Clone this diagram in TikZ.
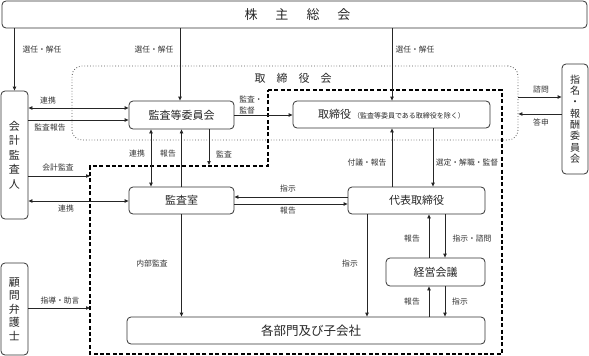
\documentclass[tikz,border=0pt]{standalone}
\usepackage{fontspec}
\setmainfont{Noto Sans CJK JP}
\usetikzlibrary{arrows.meta}
\begin{document}
\begin{tikzpicture}[x=1pt,y=-1pt,
  box/.style={draw=black!80, rounded corners=4pt, line width=0.8pt, inner sep=0pt, text=black!85,
    font=\fontsize{11}{13}\selectfont},
  vbox/.style={box, align=center, font=\fontsize{11}{14.5}\selectfont},
  lbl/.style={font=\fontsize{7.8}{10}\selectfont, text=black!80, inner sep=0.5pt},
  arr/.style={-{Triangle[length=4pt,width=3.4pt]}, line width=0.8pt, draw=black!85},
  darr/.style={{Triangle[length=4pt,width=3.4pt]}-{Triangle[length=4pt,width=3.4pt]}, line width=0.8pt, draw=black!85},
  dashline/.style={draw=black, line width=1.2pt, dash pattern=on 4pt off 2.4pt},
]
\useasboundingbox (0,0) rectangle (589,356);

% dotted board box
\node[draw=black!65, dotted, line width=0.8pt, rounded corners=10pt, minimum width=446pt, minimum height=74pt, inner sep=0pt] (bod) at (295,103) {};
\node[font=\fontsize{11}{13}\selectfont, text=black!85] (bodlbl) at (293,78) {取\hspace{11pt}締\hspace{11pt}役\hspace{11pt}会};

% dashed region
\draw[dashline] (268,90) coordinate (d1) -- (502,90) coordinate (d2) -- (502,354) coordinate (d3)
  -- (90,354) coordinate (d4) -- (90,166) coordinate (d5) -- (268,166) coordinate (d6) -- cycle;

% nodes
\node[box, minimum width=585pt, minimum height=27pt, font=\fontsize{13}{15}\selectfont] (sh) at (294.5,14.5)
  {\hspace{6pt}株\hspace{18pt}主\hspace{18pt}総\hspace{18pt}会};
\node[vbox, minimum width=27pt, minimum height=128pt] (auditor) at (14.5,155) {会\\計\\監\\査\\人};
\node[vbox, minimum width=27pt, minimum height=92pt, font=\fontsize{11}{13.5}\selectfont] (legal) at (14.5,309) {顧\\問\\弁\\護\\士};
\node[vbox, minimum width=26pt, minimum height=110pt, font=\fontsize{10}{11.3}\selectfont] (nom) at (575,119) {指\\名\\・\\報\\酬\\委\\員\\会};
\node[box, minimum width=105pt, minimum height=28pt] (ace) at (181.5,115) {監査等委員会};
\node[box, minimum width=197pt, minimum height=27pt] (dir) at (391.5,114.5)
  {取締役\hspace{2pt}{\fontsize{7}{8}\selectfont（監査等委員である取締役を除く）}};
\node[box, minimum width=105pt, minimum height=27pt] (ia) at (181.5,200.5) {監査室};
\node[box, minimum width=137pt, minimum height=27pt] (rep) at (416.5,200.5) {代表取締役};
\node[box, minimum width=99pt, minimum height=28pt] (mgmt) at (435.5,272) {経営会議};
\node[box, minimum width=358pt, minimum height=27pt, font=\fontsize{12.5}{14}\selectfont] (dept) at (306,330.5) {\hspace{10pt}各部門及び子会社};

% coordinates on dashed line
\coordinate (kansaend) at (209,165);
\coordinate (kaikeiend) at (90,176);
\coordinate (bengoend) at (90,308);

% connectors
\draw[arr] (sh.south -| auditor) -- (auditor.north);
\draw[arr] (sh.south -| 180,0) -- (ace.north -| 180,0);
\draw[arr] (sh.south -| 392,0) -- (dir.north -| 392,0);
\node[lbl] (l1) at (42,50) {選任・解任};
\node[lbl] (l2) at (154,50) {選任・解任};
\node[lbl] (l3) at (415,50) {選任・解任};

\draw[darr] (auditor.east |- 0,108) -- (ace.west |- 0,108);
\node[lbl] (l4) at (48,101) {連携};
\draw[arr] (auditor.east |- 0,120) -- (ace.west |- 0,120);
\node[lbl] (l5) at (50,128) {監査報告};

\draw[arr] (ace.east) -- (ace.east -| dir.west);
\node[lbl, align=left, font=\fontsize{7.8}{10.5}\selectfont] (l6) at (251,105) {監査・\\監督};

\draw[darr] (ace.south -| 151,0) -- (ia.north -| 151,0);
\node[lbl] (l7) at (137,154) {連携};
\draw[arr] (ia.north) -- (ace.south);
\node[lbl] (l8) at (168,154) {報告};
\draw[arr] (ace.south -| kansaend) -- (kansaend);
\node[lbl] (l9) at (224,154) {監査};

\draw[arr] (auditor.east |- kaikeiend) -- (kaikeiend);
\node[lbl] (l10) at (58,168) {会計監査};
\draw[darr] (auditor.east |- 0,201) -- (ia.west |- 0,201);
\node[lbl] (l11) at (66,209) {連携};

\draw[arr] (rep.west |- 0,197) -- (ia.east |- 0,197);
\node[lbl] (l12) at (288,189) {指示};
\draw[arr] (ia.east |- 0,204) -- (rep.west |- 0,204);
\node[lbl] (l13) at (288,211) {報告};

\draw[arr] (rep.north -| 392,0) -- (dir.south -| 392,0);
\node[lbl] (l14) at (367,163) {付議・報告};
\draw[arr] (dir.south -| 433,0) -- (rep.north -| 433,0);
\node[lbl] (l15) at (467,163) {選定・解職・監督};

\draw[arr] (ia.south) -- (dept.north -| ia);
\node[lbl] (l16) at (152,264) {内部監査};
\draw[arr] (rep.south -| 367,0) -- (dept.north -| 367,0);
\node[lbl] (l17) at (350,264) {指示};

\draw[arr] (mgmt.north -| 429,0) -- (rep.south -| 429,0);
\node[lbl] (l18) at (412,239) {報告};
\draw[arr] (rep.south -| 445,0) -- (mgmt.north -| 445,0);
\node[lbl] (l19) at (472,239) {指示・諮問};
\draw[arr] (dept.north -| 429,0) -- (mgmt.south -| 429,0);
\node[lbl] (l20) at (412,302) {報告};
\draw[arr] (mgmt.south -| 445,0) -- (dept.north -| 445,0);
\node[lbl] (l21) at (460,302) {指示};

\draw[arr] (legal.east |- bengoend) -- (bengoend);
\node[lbl] (l22) at (60,301) {指導・助言};

\draw[arr] (bod.east |- 0,97) -- (nom.west |- 0,97);
\node[lbl] (l23) at (541,90) {諮問};
\draw[arr] (nom.west |- 0,114) -- (bod.east |- 0,114);
\node[lbl] (l24) at (541,122) {答申};
\end{tikzpicture}
\end{document}
